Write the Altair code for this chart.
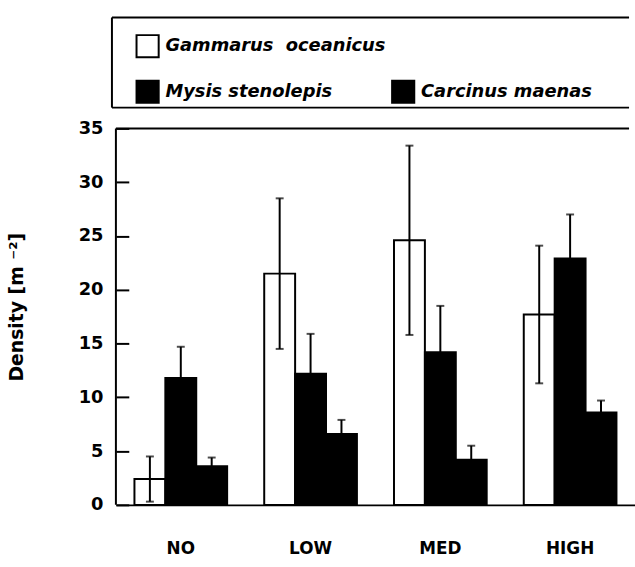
import altair as alt
import pandas as pd

# Treatment levels and species
groups = ["NO", "LOW", "MED", "HIGH"]
species = ["Gammarus oceanicus", "Mysis stenolepis", "Carcinus maenas"]
legend_labels = ["Gammarus\u00a0 oceanicus", "Mysis stenolepis", "Carcinus maenas"]
fills = ["white", "black", "black"]

# Mean density (m^-2) and standard error per treatment
gammarus_mean = [2.4, 21.5, 24.6, 17.7]
gammarus_se = [2.1, 7.0, 8.8, 6.4]
mysis_mean = [11.8, 12.2, 14.2, 22.9]
mysis_se = [2.9, 3.7, 4.3, 4.1]
carcinus_mean = [3.6, 6.6, 4.2, 8.6]
carcinus_se = [0.8, 1.3, 1.3, 1.1]

y_labels = [0, 5, 10, 15, 20, 25, 30, 35]
y_max = 35

# Legend layout: column / row of each entry
legend_col = [0, 0, 1]
legend_row = [0, 1, 1]

FONT = "DejaVu Sans"
TICK_LEN = 13

rows = []
for sp, means, ses in zip(species,
                          [gammarus_mean, mysis_mean, carcinus_mean],
                          [gammarus_se, mysis_se, carcinus_se]):
    for g, m, s in zip(groups, means, ses):
        rows.append({"group": g, "species": sp, "density": m,
                     "lo": max(m - s, 0), "hi": m + s})
df = pd.DataFrame(rows)

y_scale = alt.Scale(domain=[0, y_max], nice=False, zero=True)
fill_scale = alt.Scale(domain=species, range=fills)
y_title = "Density [m \u207b\u00b2]"

# The axis is shifted into the plot so its ticks point inward from the frame
y_axis = alt.Axis(title=y_title, values=y_labels, offset=-TICK_LEN,
                  domain=False, ticks=True, tickSize=TICK_LEN, tickWidth=2,
                  tickColor="black", grid=False,
                  labelFont=FONT, labelFontSize=18, labelFontWeight="bold",
                  labelColor="black", labelPadding=13,
                  titleFont=FONT, titleFontSize=19, titleFontWeight="bold",
                  titleColor="black", titleX=-90 - TICK_LEN, titleY=180)

x_scale = alt.Scale(domain=groups, range=[0, 524], paddingInner=0, paddingOuter=0)
x_enc = alt.X(
    "group:N", sort=groups, scale=x_scale,
    axis=alt.Axis(title=None, labelAngle=0, labelFont=FONT, labelFontSize=17,
                  labelFontWeight="bold", labelColor="black", labelPadding=36,
                  ticks=False, domainColor="black", domainWidth=2),
)
xoff_enc = alt.XOffset(
    "species:N", sort=species,
    scale=alt.Scale(domain=species, paddingInner=0, paddingOuter=0.6),
)

base = alt.Chart(df)

bars = base.mark_bar(stroke="black", strokeWidth=2).encode(
    x=x_enc,
    xOffset=xoff_enc,
    y=alt.Y("density:Q", scale=y_scale, axis=y_axis),
    fill=alt.Fill("species:N", scale=fill_scale, legend=None),
)

err_lines = base.mark_rule(color="black", strokeWidth=2).encode(
    x=x_enc, xOffset=xoff_enc,
    y=alt.Y("lo:Q", scale=y_scale, title=y_title), y2="hi:Q",
)

err_caps = base.transform_fold(["lo", "hi"], as_=["end", "val"]).mark_tick(
    color="black", thickness=2, size=8, orient="horizontal"
).encode(
    x=x_enc, xOffset=xoff_enc,
    y=alt.Y("val:Q", scale=y_scale, title=y_title),
)

# Top and left edges of the plot frame
top_edge = alt.Chart(pd.DataFrame({"top": [y_max]})).mark_rule(
    color="black", strokeWidth=2
).encode(y=alt.Y("top:Q", scale=y_scale, title=y_title))

left_edge = alt.Chart(pd.DataFrame({"k": [0]})).mark_rule(
    color="black", strokeWidth=2
).encode(
    x=alt.X(datum=groups[0], bandPosition=0),
    y=alt.Y(datum=0), y2=alt.Y2(datum=y_max),
)

plot = alt.layer(bars, err_lines, err_caps, top_edge, left_edge).properties(
    width=518, height=380
)

# Species key in a framed panel above the plot
leg_df = pd.DataFrame({"species": species, "label": legend_labels,
                       "col": legend_col, "row": legend_row})
leg_base = alt.Chart(leg_df).encode(
    x=alt.X("col:Q", scale=alt.Scale(domain=[0, 1], range=[32, 290]), axis=None),
    y=alt.Y("row:Q", scale=alt.Scale(domain=[0, 1], range=[29, 75]), axis=None),
)
leg_squares = leg_base.mark_square(size=500, stroke="black", strokeWidth=2, opacity=1).encode(
    fill=alt.Fill("species:N", scale=fill_scale, legend=None)
)
leg_text = leg_base.mark_text(
    align="left", baseline="middle", dx=18, font=FONT, fontSize=18,
    fontStyle="italic", fontWeight="bold", color="black"
).encode(text="label:N")

frame = pd.DataFrame({"k": [0]})
leg_top = alt.Chart(frame).mark_rule(color="black", strokeWidth=2).encode(
    x=alt.value(-4), x2=alt.value(518), y=alt.value(0))
leg_bottom = alt.Chart(frame).mark_rule(color="black", strokeWidth=2).encode(
    x=alt.value(-4), x2=alt.value(518), y=alt.value(91))
leg_left = alt.Chart(frame).mark_rule(color="black", strokeWidth=2).encode(
    x=alt.value(-4), y=alt.value(0), y2=alt.value(91))

legend_panel = alt.layer(leg_top, leg_bottom, leg_left, leg_squares, leg_text).properties(
    width=518, height=91
)

chart = alt.vconcat(legend_panel, plot, spacing=11).properties(
    padding={"left": 8, "top": 14, "right": 0, "bottom": 0},
    background="white",
).configure_view(stroke=None)

chart.save("out.html", embed_options={"renderer": "svg", "actions": False})
